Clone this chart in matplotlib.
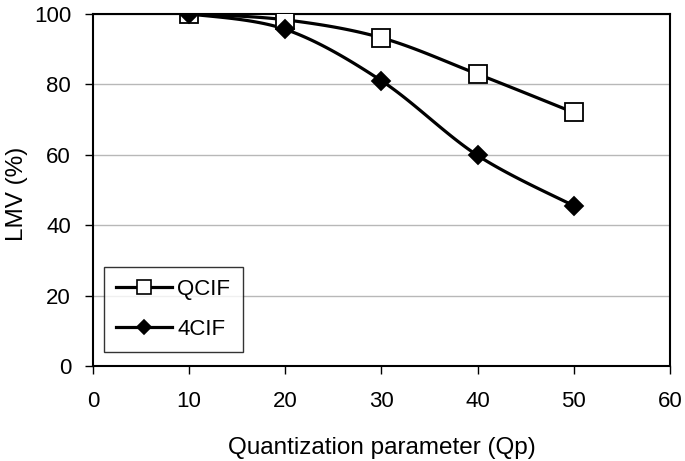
import numpy as np
import matplotlib
matplotlib.use("Agg")
import matplotlib.pyplot as plt

qp = [10, 20, 30, 40, 50]
qcif = [100, 98.3, 93.2, 82.9, 72.0]
cif4 = [100, 95.6, 81.0, 59.8, 45.5]
x_ticks = [0, 10, 20, 30, 40, 50, 60]
y_ticks = [0, 20, 40, 60, 80, 100]

plt.rcParams['font.family'] = ['Liberation Sans', 'DejaVu Sans']


def smooth(x, y, n=30):
    # Catmull-Rom style smoothing like Excel's smoothed lines
    x = np.asarray(x, float)
    y = np.asarray(y, float)
    px = np.concatenate([[x[0]], x, [x[-1]]])
    py = np.concatenate([[y[0]], y, [y[-1]]])
    xs, ys = [], []
    for i in range(1, len(px) - 2):
        p0, p1, p2, p3 = (np.array([px[j], py[j]]) for j in (i - 1, i, i + 1, i + 2))
        c1 = p1 + (p2 - p0) / 6
        c2 = p2 - (p3 - p1) / 6
        t = np.linspace(0, 1, n)[:, None]
        pts = (1 - t) ** 3 * p1 + 3 * (1 - t) ** 2 * t * c1 + 3 * (1 - t) * t ** 2 * c2 + t ** 3 * p2
        if i > 1:
            pts = pts[1:]
        xs.extend(pts[:, 0])
        ys.extend(pts[:, 1])
    return xs, ys


fig = plt.figure(figsize=(6.85, 4.61), dpi=100)
ax = fig.add_axes([0.1358, 0.206, 0.842, 0.764])

lw = 2.3
for yv, marker, fc, ms, label in [(qcif, 's', 'white', 13, 'QCIF'), (cif4, 'D', 'black', 9, '4CIF')]:
    sx, sy = smooth(qp, yv)
    ax.plot(sx, sy, color='black', lw=lw, zorder=3, solid_capstyle='round')
    ax.plot(qp, yv, linestyle='none', marker=marker, markersize=ms,
            markerfacecolor=fc, markeredgecolor='black', markeredgewidth=1.3, zorder=4)
    ax.plot([], [], color='black', lw=lw, marker=marker, markersize=ms * 0.8,
            markerfacecolor=fc, markeredgecolor='black', markeredgewidth=1.2, label=label)

ax.set_xlim(0, 60)
ax.set_ylim(0, 100)
ax.set_xticks(x_ticks)
ax.set_yticks(y_ticks)
ax.yaxis.grid(True, color='#b8b8b8', lw=1)
ax.set_axisbelow(True)
for s in ax.spines.values():
    s.set_color('black')
    s.set_linewidth(1.5)
ax.tick_params(axis='both', direction='out', length=5.8, width=1, labelsize=16, colors='black')
ax.tick_params(axis='x', pad=12)
ax.tick_params(axis='y', pad=10)
ax.set_xlabel('Quantization parameter (Qp)', fontsize=17.5, labelpad=18)
ax.set_ylabel('LMV (%)', fontsize=17.5)
ax.yaxis.set_label_coords(-0.112, 0.49)

leg = fig.legend(loc='upper left', bbox_to_anchor=(104 / 685, 1 - 267 / 461), fontsize=16,
                 frameon=True, fancybox=False, edgecolor='black', handlelength=2.5,
                 borderpad=0.55, labelspacing=0.85, handletextpad=0.25, borderaxespad=0)
leg.get_frame().set_linewidth(1.0)

fig.savefig('out.png', dpi=100)
